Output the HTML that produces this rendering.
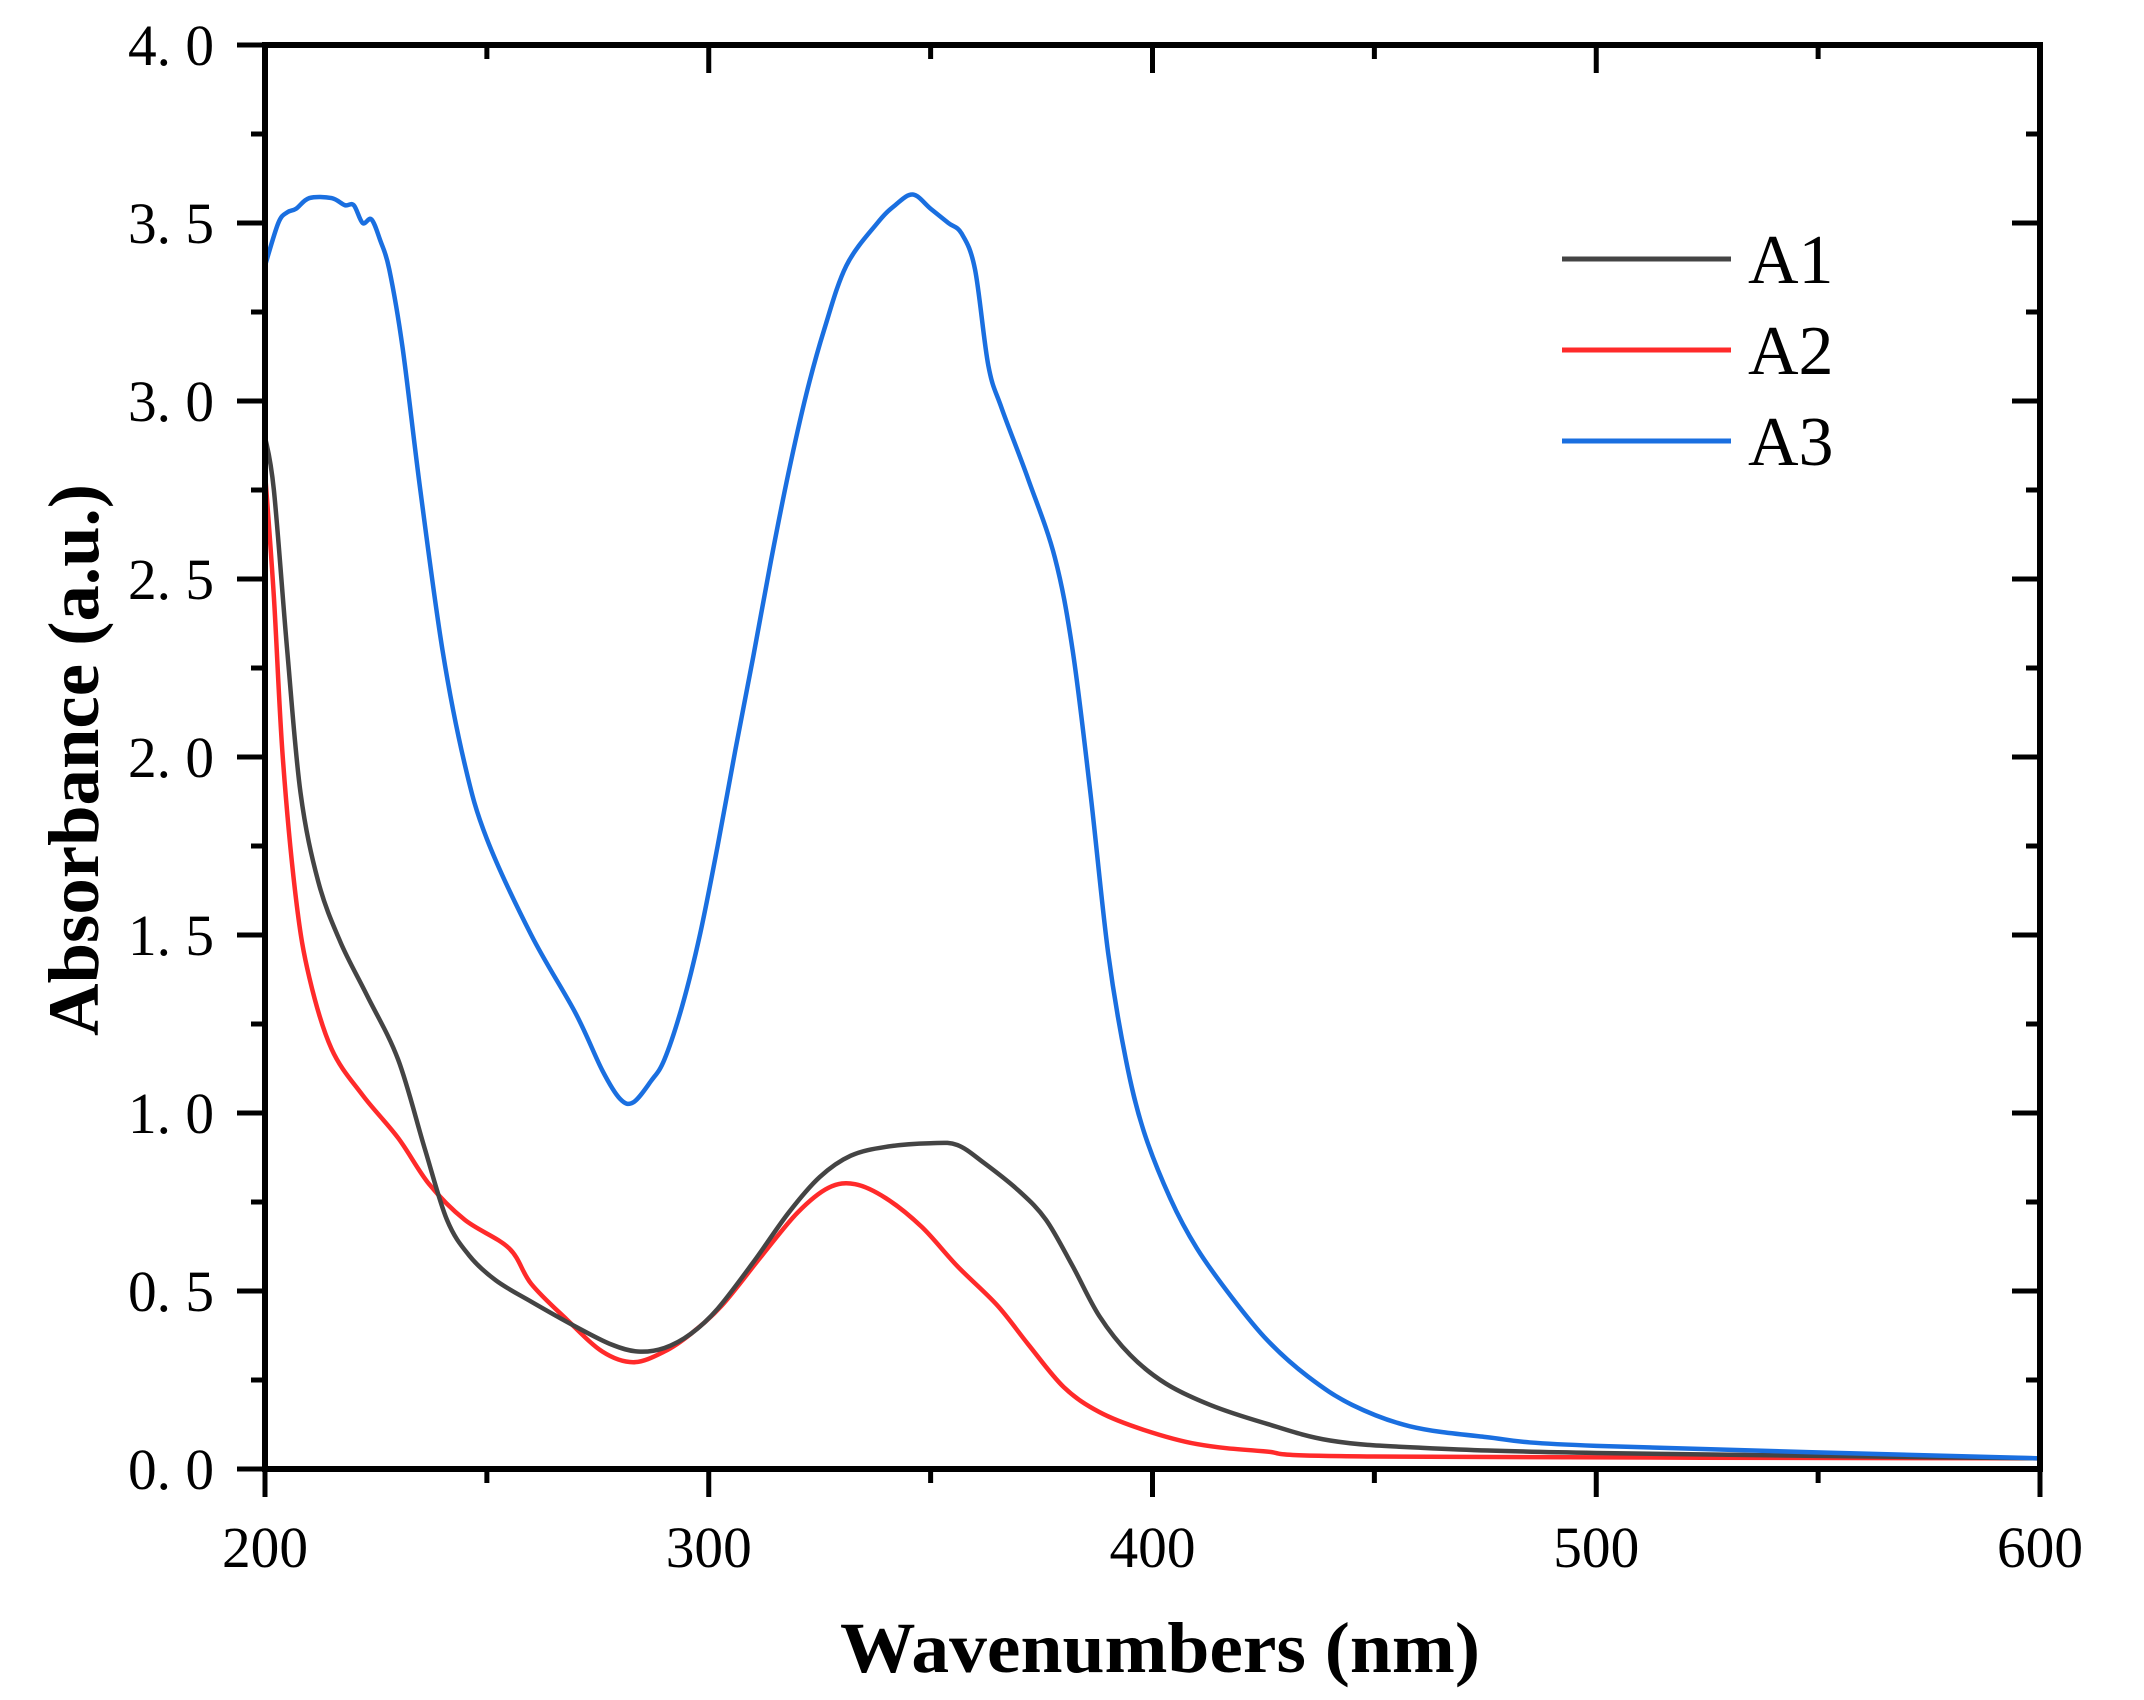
<!DOCTYPE html>
<html><head><meta charset="utf-8"><style>
html,body{margin:0;padding:0;background:#fff;}
svg{display:block;}
text{font-family:"Liberation Serif",serif;fill:#000;}
</style></head><body>
<svg id="s" width="2144" height="1700" viewBox="0 0 2144 1700" xmlns="http://www.w3.org/2000/svg">
<g id="ticks" stroke="#000" stroke-width="5"></g>
<g id="curves" fill="none" stroke-width="4.5" stroke-linejoin="round" stroke-linecap="round"></g>
<rect x="265" y="45" width="1775" height="1424" fill="none" stroke="#000" stroke-width="6"/>
<g id="labels" font-size="58"></g>
<text x="1160" y="1672" font-size="72" font-weight="bold" text-anchor="middle" textLength="640" lengthAdjust="spacingAndGlyphs">Wavenumbers (nm)</text>
<text transform="translate(98,760) rotate(-90)" font-size="72" font-weight="bold" text-anchor="middle" textLength="552" lengthAdjust="spacingAndGlyphs">Absorbance (a.u.)</text>
<line x1="1562" y1="259" x2="1731" y2="259" stroke="#444" stroke-width="5"/>
<line x1="1562" y1="350" x2="1731" y2="350" stroke="#ff2a2a" stroke-width="5"/>
<line x1="1562" y1="441" x2="1731" y2="441" stroke="#1a6fe0" stroke-width="5"/>
<text x="1748" y="283" font-size="70">A1</text>
<text x="1748" y="374" font-size="70">A2</text>
<text x="1748" y="465" font-size="70">A3</text>
</svg>
<script>
var NS="http://www.w3.org/2000/svg";
function X(w){return 265+4.4375*(w-200);}
function Y(a){return 1469-356*a;}
var tk=document.getElementById('ticks'),lb=document.getElementById('labels');
function ln(x1,y1,x2,y2){var l=document.createElementNS(NS,'line');l.setAttribute('x1',x1);l.setAttribute('y1',y1);l.setAttribute('x2',x2);l.setAttribute('y2',y2);tk.appendChild(l);}
function tx(x,y,s,anc,len){var t=document.createElementNS(NS,'text');t.setAttribute('x',x);t.setAttribute('y',y);t.setAttribute('text-anchor',anc);t.setAttribute('textLength',len);t.setAttribute('lengthAdjust','spacingAndGlyphs');t.textContent=s;lb.appendChild(t);}
for(var i=0;i<=16;i++){var a=i*0.25,y=Y(a),L=(i%2==0)?28:14;ln(265-L,y,265,y);ln(2040-L,y,2040,y);
 if(i%2==0){tx(214,y+20,(a.toFixed(1)).replace('.','. '),'end',86);}}
for(var i=0;i<=8;i++){var w=200+i*50,x=X(w),L=(i%2==0)?28:14;ln(x,1469,x,1469+L);ln(x,45,x,45+L);
 if(i%2==0){tx(x,1567,String(w),'middle',86);}}
var A3=[[200,3.38],[203,3.5],[205,3.53],[207,3.54],[210,3.57],[215,3.57],[218,3.55],[220,3.55],[222,3.5],[224,3.51],[226,3.45],[228,3.37],[231,3.15],[235,2.75],[240,2.3],[245,1.98],[250,1.77],[260,1.5],[270,1.28],[276,1.12],[280,1.04],[283,1.03],[287,1.09],[290,1.15],[294,1.3],[298,1.5],[302,1.75],[306,2.02],[310,2.28],[314,2.55],[318,2.8],[322,3.02],[326,3.2],[331,3.38],[338,3.5],[342,3.55],[346,3.58],[350,3.54],[354,3.5],[357,3.47],[360,3.37],[363,3.1],[366,2.98],[372,2.78],[378,2.56],[382,2.3],[386,1.9],[390,1.45],[394,1.15],[398,0.95],[404,0.76],[410,0.62],[418,0.48],[426,0.36],[435,0.26],[445,0.18],[458,0.12],[475,0.09],[500,0.065],[600,0.03]];
var A1=[[200,2.9],[202,2.75],[205,2.3],[208,1.9],[212,1.65],[217,1.48],[223,1.33],[230,1.15],[236,0.9],[241,0.7],[246,0.6],[252,0.53],[260,0.47],[270,0.4],[278,0.35],[284,0.33],[290,0.34],[296,0.38],[302,0.45],[310,0.58],[318,0.72],[325,0.82],[332,0.88],[340,0.905],[350,0.915],[356,0.91],[362,0.86],[370,0.78],[376,0.7],[382,0.57],[388,0.43],[395,0.32],[403,0.24],[413,0.18],[425,0.13],[440,0.08],[460,0.06],[500,0.045],[600,0.03]];
var A2=[[200,2.8],[202,2.45],[204,2.0],[207,1.6],[210,1.38],[215,1.18],[222,1.05],[230,0.93],[237,0.8],[245,0.7],[255,0.62],[260,0.52],[268,0.42],[276,0.33],[283,0.3],[290,0.33],[296,0.38],[303,0.46],[312,0.6],[320,0.72],[327,0.79],[333,0.8],[340,0.76],[348,0.68],[356,0.57],[365,0.46],[372,0.35],[380,0.23],[388,0.16],[398,0.11],[410,0.07],[425,0.05],[450,0.035],[600,0.03]];
function path(d,c){var p=d.map(function(q){return [X(q[0]),Y(q[1])];});var s='M'+p[0][0]+','+p[0][1];
for(var i=0;i<p.length-1;i++){var p0=p[i-1]||p[i],p1=p[i],p2=p[i+1],p3=p[i+2]||p2;
s+=' C'+(p1[0]+(p2[0]-p0[0])/6)+','+(p1[1]+(p2[1]-p0[1])/6)+' '+(p2[0]-(p3[0]-p1[0])/6)+','+(p2[1]-(p3[1]-p1[1])/6)+' '+p2[0]+','+p2[1];}
var e=document.createElementNS(NS,'path');e.setAttribute('d',s);e.setAttribute('stroke',c);document.getElementById('curves').appendChild(e);}
path(A2,'#ff2a2a');path(A1,'#444');path(A3,'#1a6fe0');
</script>
</body></html>
